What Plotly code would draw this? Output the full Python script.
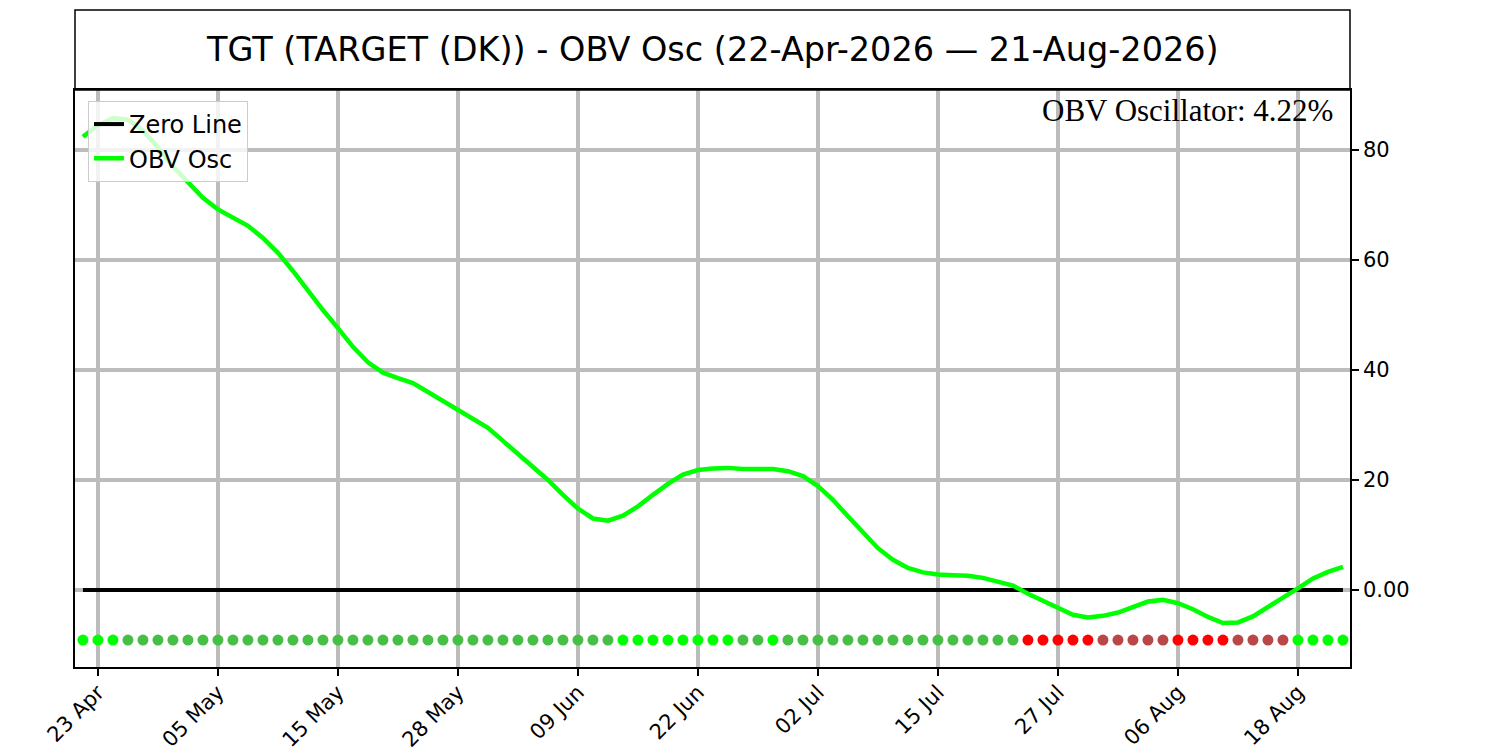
import plotly.graph_objects as go

symbol = "TGT"
name = "TARGET (DK)"

# trading days shown on the chart
dates = [
    "2026-04-22", "2026-04-23", "2026-04-24", "2026-04-27", "2026-04-28", "2026-04-29", "2026-04-30",
    "2026-05-01", "2026-05-04", "2026-05-05", "2026-05-06", "2026-05-07", "2026-05-08", "2026-05-11",
    "2026-05-12", "2026-05-13", "2026-05-14", "2026-05-15", "2026-05-18", "2026-05-19", "2026-05-20",
    "2026-05-21", "2026-05-22", "2026-05-26", "2026-05-27", "2026-05-28", "2026-05-29",
    "2026-06-01", "2026-06-02", "2026-06-03", "2026-06-04", "2026-06-05", "2026-06-08", "2026-06-09",
    "2026-06-10", "2026-06-11", "2026-06-12", "2026-06-15", "2026-06-16", "2026-06-17", "2026-06-18",
    "2026-06-22", "2026-06-23", "2026-06-24", "2026-06-25", "2026-06-26", "2026-06-29", "2026-06-30",
    "2026-07-01", "2026-07-02", "2026-07-06", "2026-07-07", "2026-07-08", "2026-07-09", "2026-07-10",
    "2026-07-13", "2026-07-14", "2026-07-15", "2026-07-16", "2026-07-17", "2026-07-20", "2026-07-21",
    "2026-07-22", "2026-07-23", "2026-07-24", "2026-07-27", "2026-07-28", "2026-07-29", "2026-07-30",
    "2026-07-31", "2026-08-03", "2026-08-04", "2026-08-05", "2026-08-06", "2026-08-07", "2026-08-10",
    "2026-08-11", "2026-08-12", "2026-08-13", "2026-08-14", "2026-08-17", "2026-08-18", "2026-08-19",
    "2026-08-20", "2026-08-21",
]

obv_osc = [
    82.4, 84.5, 85.8, 85.5, 83.5, 80.5, 77.0, 74.0, 71.3, 69.2,
    67.6, 66.2, 64.0, 61.3, 58.0, 54.3, 50.9, 47.6, 44.2, 41.4,
    39.5, 38.5, 37.6, 36.0, 34.4, 32.8, 31.3, 29.5, 27.1, 24.8,
    22.4, 20.0, 17.3, 14.8, 13.0, 12.6, 13.5, 15.2, 17.3, 19.3,
    21.0, 21.8, 22.1, 22.2, 22.0, 21.9, 22.0, 21.6, 20.7, 18.9,
    16.4, 13.4, 10.4, 7.6, 5.5, 4.0, 3.2, 2.8, 2.7, 2.6,
    2.2, 1.6, 0.8, -0.7, -2.0, -3.3, -4.5, -5.0, -4.7, -4.1,
    -3.0, -2.1, -1.8, -2.4, -3.5, -4.9, -6.0, -5.9, -4.8, -3.2,
    -1.4, 0.3, 2.1, 3.3, 4.22,
]

tick_dates = ["2026-04-23", "2026-05-05", "2026-05-15", "2026-05-28", "2026-06-09", "2026-06-22",
              "2026-07-02", "2026-07-15", "2026-07-27", "2026-08-06", "2026-08-18"]
tick_labels = ["23 Apr", "05 May", "15 May", "28 May", "09 Jun", "22 Jun",
               "02 Jul", "15 Jul", "27 Jul", "06 Aug", "18 Aug"]

DOT_LEVEL = -9.1

# colour of the status dots: sign of the osc and whether it is rising
dot_colors = []
for i, v in enumerate(obv_osc):
    rising = i == 0 or v >= obv_osc[i - 1]
    if v >= 0:
        dot_colors.append("#00ff00" if rising else "#47bf47")
    else:
        dot_colors.append("#b94747" if rising else "#ff0000")

fig = go.Figure()

fig.add_trace(go.Scatter(x=dates, y=[0] * len(dates), mode="lines", name="Zero Line",
                         line=dict(color="black", width=4)))
fig.add_trace(go.Scatter(x=dates, y=obv_osc, mode="lines", name="OBV Osc",
                         line=dict(color="#00ff00", width=4.5)))
fig.add_trace(go.Scatter(x=dates, y=[DOT_LEVEL] * len(dates), mode="markers", showlegend=False,
                         marker=dict(color=dot_colors, size=11, line=dict(width=0))))

# page body has an 8px margin, so margins are pulled in by 8px
plot_h = 577

fig.add_shape(type="rect", xref="paper", yref="paper", x0=0, x1=1, y0=1, y1=1 + 80 / plot_h,
              line=dict(color="black", width=1.5))
fig.add_annotation(xref="paper", yref="paper", x=0.5, y=1 + 40 / plot_h, showarrow=False,
                   text=f"{symbol} ({name}) - OBV Osc (22-Apr-2026 \u2014 21-Aug-2026)",
                   font=dict(family="DejaVu Sans", size=33.5, color="black"),
                   xanchor="center", yanchor="middle")
fig.add_annotation(xref="paper", yref="paper", x=0.988, y=1 - 20 / plot_h, showarrow=False,
                   text=f"OBV Oscillator: {obv_osc[-1]:.2f}%",
                   font=dict(family="Liberation Serif", size=31, color="black"),
                   xanchor="right", yanchor="middle")

fig.update_layout(
    width=1500, height=750, autosize=False,
    margin=dict(l=67, r=158, t=82, b=91),
    plot_bgcolor="white", paper_bgcolor="white",
    font=dict(family="DejaVu Sans", size=21, color="black"),
    legend=dict(x=0.0102, y=0.981, xanchor="left", yanchor="top",
                bgcolor="rgba(255,255,255,0.8)", bordercolor="#cccccc", borderwidth=1,
                font=dict(size=24), itemwidth=30, tracegroupgap=0),
)
fig.update_xaxes(type="category", range=[-0.53, 84.47], automargin=False,
                 tickvals=tick_dates, ticktext=tick_labels, tickangle=-45,
                 ticks="outside", ticklen=7, tickwidth=1.5, tickcolor="black",
                 ticklabelstandoff=-4,
                 showgrid=True, gridcolor="#bcbcbc", gridwidth=4,
                 showline=True, linecolor="black", linewidth=1.5, mirror=True,
                 tickfont=dict(family="DejaVu Sans", size=21, color="black"))
fig.update_yaxes(side="right", range=[-14, 90.9], automargin=False,
                 tickvals=[0, 20, 40, 60, 80], ticktext=["0.00", "20", "40", "60", "80"],
                 ticks="outside", ticklen=7, tickwidth=1.5, tickcolor="black",
                 showgrid=True, gridcolor="#bcbcbc", gridwidth=4, zeroline=False,
                 showline=True, linecolor="black", linewidth=1.5, mirror=True,
                 tickfont=dict(family="DejaVu Sans", size=21, color="black"))

fig.write_html("out.html")
